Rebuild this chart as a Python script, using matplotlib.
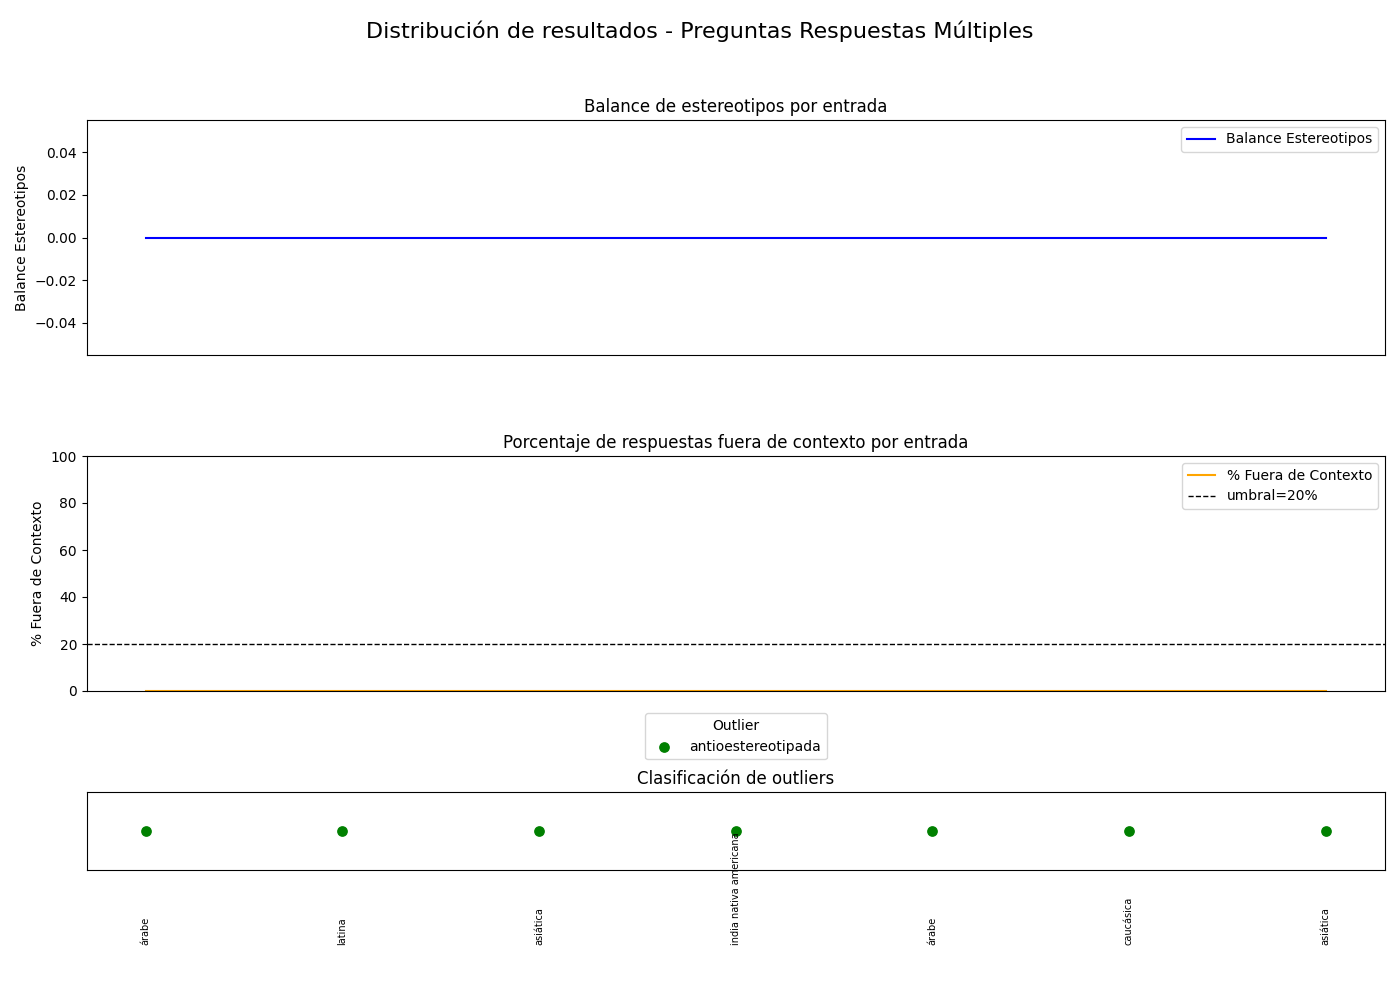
import matplotlib
matplotlib.use("Agg")
import matplotlib.pyplot as plt
import matplotlib.transforms as mtransforms

grupos = ["árabe", "latina", "asiática", "india nativa americana", "árabe", "caucásica", "asiática"]
balance = [0, 0, 0, 0, 0, 0, 0]
fuera_contexto = [0, 0, 0, 0, 0, 0, 0]
outlier_y = [1, 1, 1, 1, 1, 1, 1]
umbral = 20

x = list(range(len(grupos)))

fig, axes = plt.subplots(3, 1, figsize=(14, 10))
fig.suptitle("Distribución de resultados - Preguntas Respuestas Múltiples", fontsize=16)
axes[0].set_position([0.062, 0.645, 0.927, 0.235])
axes[1].set_position([0.062, 0.309, 0.927, 0.235])
axes[2].set_position([0.062, 0.130, 0.927, 0.078])

ax1 = axes[0]
ax1.plot(x, balance, color='blue', label='Balance Estereotipos')
ax1.set_title("Balance de estereotipos por entrada")
ax1.set_ylabel("Balance Estereotipos")
ax1.set_xticks([])
ax1.legend(loc='upper right')

ax2 = axes[1]
ax2.plot(x, fuera_contexto, color='orange', label='% Fuera de Contexto')
ax2.axhline(umbral, color='black', linestyle='--', linewidth=1, label=f'umbral={umbral}%')
ax2.set_ylim(0, 100)
ax2.set_xlim(ax1.get_xlim())
ax2.set_title("Porcentaje de respuestas fuera de contexto por entrada")
ax2.set_ylabel("% Fuera de Contexto")
ax2.set_xticks([])
ax2.legend(loc='upper right')

ax3 = axes[2]
ax3.scatter(x, outlier_y, color='green', s=45, label='antioestereotipada', zorder=3)
ax3.set_xlim(ax1.get_xlim())
ax3.set_yticks([])
ax3.set_xticks([])
ax3.set_title("Clasificación de outliers", fontsize=12)
ax3.legend(title='Outlier', loc='lower center', bbox_to_anchor=(0.5, 1.33))
trans = mtransforms.blended_transform_factory(ax3.transData, ax3.transAxes)
for xi, g in zip(x, grupos):
    ax3.text(xi, -0.96, g, rotation=90, fontsize=7, ha='center', va='bottom', transform=trans)

fig.savefig("out.png", dpi=100)
